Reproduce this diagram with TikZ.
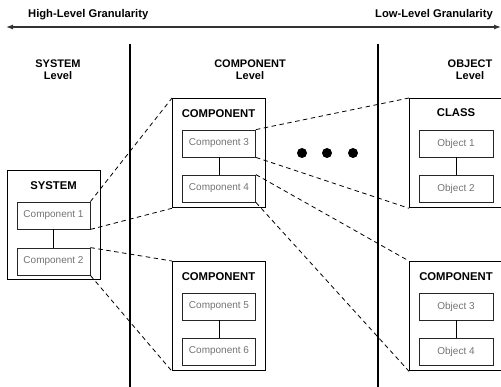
\documentclass[tikz,border=0pt]{standalone}
\usepackage{fontspec}
\setmainfont{Liberation Sans}
\usetikzlibrary{arrows.meta}
\begin{document}
\begin{tikzpicture}[x=1pt,y=-1pt,
  outerbox/.style={draw=black, line width=1.3pt, inner sep=0pt, minimum width=93, minimum height=109, anchor=north west},
  compbox/.style={draw=black!85, line width=0.8pt, inner sep=0pt, minimum width=73, minimum height=27, text=black!55, font=\fontsize{10}{11}\selectfont},
  hdr/.style={inner sep=0pt, font=\fontsize{11.3}{13}\selectfont\bfseries},
  lvl/.style={inner sep=0pt, align=center, font=\fontsize{11}{12}\selectfont\bfseries},
  gran/.style={inner sep=0pt, font=\fontsize{11.2}{13}\selectfont\bfseries},
  link/.style={draw=black, line width=0.8pt, dash pattern=on 4.5pt off 3.5pt},
  tie/.style={draw=black, line width=0.8pt},
  divider/.style={draw=black, line width=2pt}
]
\clip (0,0) rectangle (501,387);
\useasboundingbox (0,0) rectangle (501,387);

% granularity arrow
\coordinate (al) at (6,27);
\coordinate (ar) at (501,27);
\draw[line width=1.2pt, draw=black!80, {Latex[length=7pt,width=5pt]}-{Latex[length=7pt,width=5pt]}] (al) -- (ar);
\node[gran, anchor=west] (hg) at (28,15) {High-Level Granularity};
\node[gran, anchor=east] (lg) at (493,15) {Low-Level Granularity};

% dividers
\coordinate (d1t) at (130,44); \coordinate (d1b) at (130,387);
\coordinate (d2t) at (378,44); \coordinate (d2b) at (378,387);
\draw[divider] (d1t) -- (d1b);
\draw[divider] (d2t) -- (d2b);

% level titles
\node[lvl] (sl) at (58,70) {SYSTEM\\Level};
\node[lvl] (cl) at (250,70) {COMPONENT\\Level};
\node[lvl] (ol) at (470,70) {OBJECT\\Level};

% system box
\node[outerbox] (sys) at (7,170) {};
\node[hdr] (sysh) at (53.5,186) {SYSTEM};
\node[compbox] (c1) at (53.5,215.5) {Component 1};
\node[compbox] (c2) at (53.5,261.5) {Component 2};
\draw[tie] (c1) -- (c2);

% component box A
\node[outerbox] (ca) at (172,98) {};
\node[hdr] (cah) at (218.5,114) {COMPONENT};
\node[compbox] (c3) at (219,143.5) {Component 3};
\node[compbox] (c4) at (219,188.5) {Component 4};
\draw[tie] (c3) -- (c4);

% component box B
\node[outerbox] (cb) at (172,261) {};
\node[hdr] (cbh) at (218.5,277) {COMPONENT};
\node[compbox] (c5) at (219,306.5) {Component 5};
\node[compbox] (c6) at (219,351.5) {Component 6};
\draw[tie] (c5) -- (c6);

% class box
\node[outerbox] (cls) at (409,98) {};
\node[hdr] (clsh) at (456,113) {CLASS};
\node[compbox, minimum width=74] (o1) at (456,143.5) {Object 1};
\node[compbox, minimum width=74] (o2) at (456,188.5) {Object 2};
\draw[tie] (o1) -- (o2);

% component box C
\node[outerbox] (cc) at (409,261) {};
\node[hdr] (cch) at (456,277) {COMPONENT};
\node[compbox, minimum width=74] (o3) at (456,306.5) {Object 3};
\node[compbox, minimum width=74] (o4) at (456,351.5) {Object 4};
\draw[tie] (o3) -- (o4);

% dots
\fill (302,153) circle (5);
\fill (327,153) circle (5);
\fill (353,153) circle (5);

% dashed links
\draw[link] (c1.north east) -- (ca.north west);
\draw[link] (c1.south east) -- (ca.south west);
\draw[link] (c2.north east) -- (cb.north west);
\draw[link] (c2.south east) -- (cb.south west);
\draw[link] (c3.north east) -- (cls.north west);
\draw[link] (c3.south east) -- (cls.south west);
\draw[link] (c4.north east) -- (cc.north west);
\draw[link] (c4.south east) -- (cc.south west);
\end{tikzpicture}
\end{document}
